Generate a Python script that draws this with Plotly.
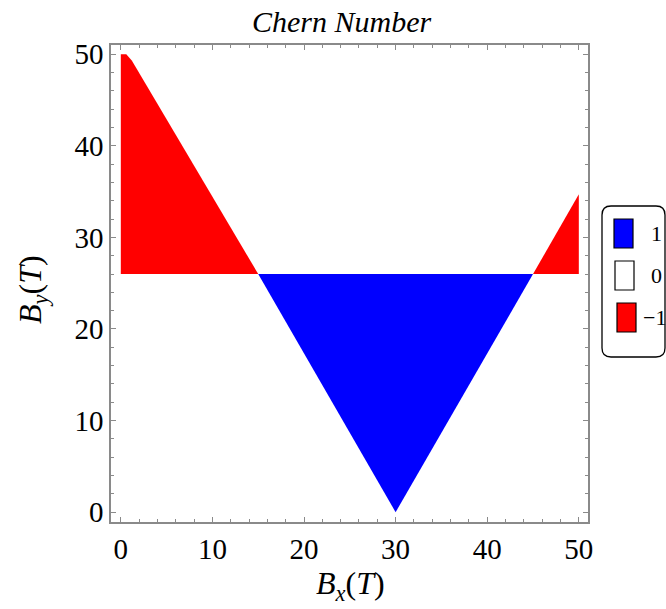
import plotly.graph_objects as go

# ---- data ----
chern_values = [1, 0, -1]
chern_labels = ["1", "0", "\u22121"]
chern_colors = ["#0000FF", "#FFFFFF", "#FF0000"]

# region with Chern number -1 (upper left)
red_left_bx = [0, 0, 0.6, 1.2, 15.0]
red_left_by = [26, 50, 50, 49.3, 26]
# region with Chern number +1 (central triangle)
blue_bx = [15.0, 45.0, 30.0]
blue_by = [26, 26, 0]
# region with Chern number -1 (upper right)
red_right_bx = [45.0, 50, 50]
red_right_by = [26, 26, 34.7]

tick_vals = [0, 10, 20, 30, 40, 50]

W, H = 666, 609
L, R, T, B = 111, 588, 45, 522
PW, PH = R - L, B - T

def px(x):
    return (x - L) / PW

def py(y):
    return (B - y) / PH

FONT = "Liberation Serif"
GRAY = "#8a8a8a"

fig = go.Figure()
regions = [
    (red_left_bx, red_left_by, chern_colors[2]),
    (blue_bx, blue_by, chern_colors[0]),
    (red_right_bx, red_right_by, chern_colors[2]),
]
for bx, by, col in regions:
    fig.add_trace(go.Scatter(
        x=bx, y=by, mode="lines", fill="toself", fillcolor=col,
        line=dict(width=0, color=col), hoverinfo="skip", showlegend=False,
    ))

axis_common = dict(
    range=[-1.07, 51], tickvals=tick_vals, ticks="inside", ticklen=5,
    tickwidth=1, tickcolor=GRAY, showline=True, linecolor=GRAY, linewidth=1.5,
    mirror="ticks", showgrid=False, zeroline=False,
    tickfont=dict(family=FONT, size=29, color="black"),
    minor=dict(dtick=2, ticks="inside", ticklen=3, tickcolor=GRAY, showgrid=False),
)
fig.update_xaxes(**axis_common)
fig.update_yaxes(**axis_common)

annotations = [
    dict(text="<i>Chern Number</i>", x=px(341), y=py(22), xref="paper", yref="paper",
         showarrow=False, font=dict(family=FONT, size=30, color="black"),
         xanchor="center", yanchor="middle"),
    dict(text="<i>B</i><sub><i>x</i></sub>(<i>T</i>)", x=px(350), y=py(585), xref="paper", yref="paper",
         showarrow=False, font=dict(family=FONT, size=32, color="black"),
         xanchor="center", yanchor="middle"),
    dict(text="<i>B</i><sub><i>y</i></sub>(<i>T</i>)", x=px(32), y=py(290), xref="paper", yref="paper",
         showarrow=False, textangle=-90, font=dict(family=FONT, size=32, color="black"),
         xanchor="center", yanchor="middle"),
]

shapes = []
# legend box (rounded)
x0, x1, y0, y1, r = 602, 665, 206, 357, 9
path = (f"M {px(x0+r)},{py(y0)} L {px(x1-r)},{py(y0)} Q {px(x1)},{py(y0)} {px(x1)},{py(y0+r)} "
        f"L {px(x1)},{py(y1-r)} Q {px(x1)},{py(y1)} {px(x1-r)},{py(y1)} "
        f"L {px(x0+r)},{py(y1)} Q {px(x0)},{py(y1)} {px(x0)},{py(y1-r)} "
        f"L {px(x0)},{py(y0+r)} Q {px(x0)},{py(y0)} {px(x0+r)},{py(y0)} Z")
shapes.append(dict(type="path", path=path, xref="paper", yref="paper",
                   line=dict(color="black", width=1.3), fillcolor="white", layer="above"))

sw_x = [614, 615, 617]
sw_y = [219, 261, 303]
lab_x = [649, 649, 641]
for i, (val, lab, col) in enumerate(zip(chern_values, chern_labels, chern_colors)):
    sx, sy = sw_x[i], sw_y[i]
    shapes.append(dict(type="rect", xref="paper", yref="paper",
                       x0=px(sx), x1=px(sx + 19), y0=py(sy), y1=py(sy + 29),
                       fillcolor=col, line=dict(color="black", width=1.2), layer="above"))
    annotations.append(dict(text=lab, x=px(lab_x[i]), y=py(sy + 14.5), xref="paper", yref="paper",
                            showarrow=False, xanchor="left", yanchor="middle",
                            font=dict(family=FONT, size=22, color="black")))

fig.update_layout(
    width=W, height=H, margin=dict(l=L, r=W - R, t=T, b=H - B),
    paper_bgcolor="white", plot_bgcolor="white",
    annotations=annotations, shapes=shapes, showlegend=False,
)

fig.write_html(
    "out.html",
    config={"displayModeBar": False},
    post_script="document.body.style.margin='0px';document.body.style.overflow='hidden';",
)
